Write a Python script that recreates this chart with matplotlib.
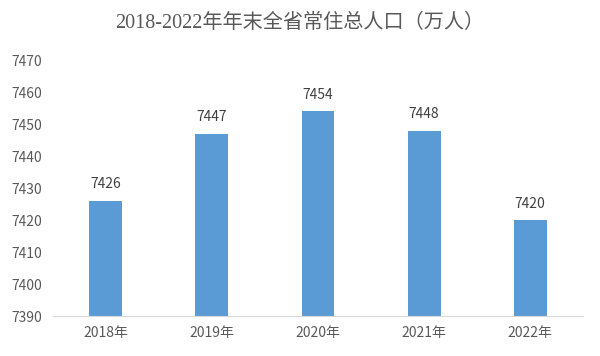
import matplotlib
matplotlib.use("Agg")
import matplotlib.pyplot as plt

years = ["2018年", "2019年", "2020年", "2021年", "2022年"]
population = [7426, 7447, 7454, 7448, 7420]
yticks = [7390, 7400, 7410, 7420, 7430, 7440, 7450, 7460, 7470]

title_font = ["Liberation Serif", "Noto Sans CJK SC"]
label_font = ["Noto Sans CJK SC", "DejaVu Sans"]
grey = "#595959"

fig = plt.figure(figsize=(6, 3.56), dpi=100)
ax = fig.add_axes([0.088, 0.112, 0.884, 0.719])

x = range(len(years))
ax.bar(x, population, width=0.31, color="#5B9BD5", zorder=2)
for i, v in enumerate(population):
    ax.text(i, v + 3, str(v), ha="center", va="bottom", fontsize=10,
            color="#404040", family=label_font)

ax.set_xlim(-0.5, len(years) - 0.5)
ax.set_ylim(7390, 7470)
ax.set_yticks(yticks)
ax.set_yticklabels([str(t) for t in yticks], family=label_font, fontsize=10, color=grey)
ax.set_xticks(list(x))
ax.set_xticklabels(years, family=label_font, fontsize=10, color=grey)
ax.tick_params(axis="both", length=0)
ax.tick_params(axis="x", pad=7)
ax.tick_params(axis="y", pad=8)

for s in ["top", "right", "left"]:
    ax.spines[s].set_visible(False)
ax.spines["bottom"].set_color("#d9d9d9")

fig.text(0.5, 0.935, "2018-2022年年末全省常住总人口（万人）", ha="center", va="center",
         fontsize=14.5, color=grey, family=title_font)

plt.savefig("out.png")
